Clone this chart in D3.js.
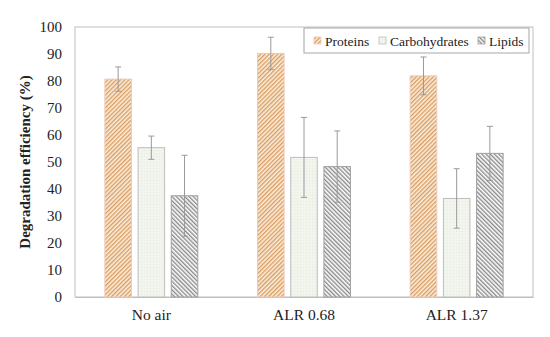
<!DOCTYPE html>
<html>
<head>
<meta charset="utf-8">
<style>
body { margin:0; background:#ffffff; }
svg { display:block; }
svg text { font-family:"Liberation Serif", "Times New Roman", serif; }
</style>
<script src="https://cdnjs.cloudflare.com/ajax/libs/d3/7.8.5/d3.min.js"></script>
</head>
<body>
<svg id="chart" width="550" height="337"></svg>
<script>
var categories = ["No air", "ALR 0.68", "ALR 1.37"];
var seriesNames = ["Proteins", "Carbohydrates", "Lipids"];
var proteins = [80.7, 90.2, 81.9];
var proteinsErr = [4.5, 6.0, 7.0];
var carbohydrates = [55.3, 51.7, 36.5];
var carbohydratesErr = [4.3, 14.8, 11.0];
var lipids = [37.5, 48.3, 53.2];
var lipidsErr = [15.0, 13.2, 10.0];
var yTicks = [0, 10, 20, 30, 40, 50, 60, 70, 80, 90, 100];

var values = [proteins, carbohydrates, lipids];
var errors = [proteinsErr, carbohydratesErr, lipidsErr];

var svg = d3.select("#chart");
var pLeft = 75, pRight = 533, pTop = 27, pBottom = 297;

// patterns
var defs = svg.append("defs");
var pp = defs.append("pattern").attr("id", "pat0").attr("patternUnits", "userSpaceOnUse")
  .attr("width", 3).attr("height", 3).attr("patternTransform", "rotate(45)");
pp.append("rect").attr("width", 3).attr("height", 3).attr("fill", "#fcf0df");
pp.append("rect").attr("width", 1.4).attr("height", 3).attr("fill", "#d99d62");

var pc = defs.append("pattern").attr("id", "pat1").attr("patternUnits", "userSpaceOnUse")
  .attr("width", 3).attr("height", 3);
pc.append("rect").attr("width", 3).attr("height", 3).attr("fill", "#f2f5ee");
pc.append("rect").attr("width", 1).attr("height", 1).attr("fill", "#e4eadc");

var pl = defs.append("pattern").attr("id", "pat2").attr("patternUnits", "userSpaceOnUse")
  .attr("width", 3).attr("height", 3).attr("patternTransform", "rotate(-45)");
pl.append("rect").attr("width", 3).attr("height", 3).attr("fill", "#ffffff");
pl.append("rect").attr("width", 1.4).attr("height", 3).attr("fill", "#8a8a8a");

var fills = ["url(#pat0)", "url(#pat1)", "url(#pat2)"];
var strokes = ["#f0c8b8", "#bcbcbc", "#a0a0a0"];

var x0 = d3.scaleBand().domain(categories).range([pLeft, pRight]);
var x1 = d3.scaleBand().domain(seriesNames).range([0, x0.bandwidth()]).paddingInner(0.2).paddingOuter(0.9);
var y = d3.scaleLinear().domain([0, 100]).range([pBottom, pTop]);

// plot frame
svg.append("rect").attr("x", pLeft).attr("y", pTop).attr("width", pRight - pLeft).attr("height", pBottom - pTop)
  .attr("fill", "none").attr("stroke", "#bfbfbf").attr("stroke-width", 1);

// y axis
var yAxis = svg.append("g").attr("transform", "translate(" + pLeft + ",0)")
  .call(d3.axisLeft(y).tickValues(yTicks).tickSize(0).tickPadding(13));
yAxis.attr("font-family", null);
yAxis.select(".domain").remove();
yAxis.selectAll("text").attr("font-size", 15).attr("fill", "#222");

svg.append("text").text("Degradation efficiency (%)")
  .attr("transform", "translate(25," + ((pTop + pBottom) / 2) + ") rotate(-90)")
  .attr("text-anchor", "middle").attr("dominant-baseline", "central")
  .attr("font-weight", "bold").attr("font-size", 15).attr("fill", "#222");

// x axis labels
var xAxis = svg.append("g").attr("transform", "translate(0," + pBottom + ")")
  .call(d3.axisBottom(x0).tickSize(0).tickPadding(12));
xAxis.attr("font-family", null);
xAxis.select(".domain").attr("stroke", "#bfbfbf");
xAxis.selectAll("text").attr("font-size", 15.5).attr("fill", "#222");

// bars
seriesNames.forEach(function(s, si) {
  var g = svg.append("g");
  categories.forEach(function(c, ci) {
    var v = values[si][ci], e = errors[si][ci];
    var bx = x0(c) + x1(s), bw = x1.bandwidth();
    g.append("rect").attr("x", bx).attr("y", y(v)).attr("width", bw).attr("height", y(0) - y(v))
      .attr("fill", fills[si]).attr("stroke", strokes[si]).attr("stroke-width", 1);
    var cx = bx + bw / 2;
    g.append("line").attr("x1", cx).attr("x2", cx).attr("y1", y(v + e)).attr("y2", y(v - e))
      .attr("stroke", "#9a9a9a").attr("stroke-width", 1);
    [v + e, v - e].forEach(function(t) {
      g.append("line").attr("x1", cx - 3).attr("x2", cx + 3).attr("y1", y(t)).attr("y2", y(t))
        .attr("stroke", "#9a9a9a").attr("stroke-width", 1);
    });
  });
});

// legend
var lg = svg.append("g");
lg.append("rect").attr("x", 304).attr("y", 28).attr("width", 225).attr("height", 25)
  .attr("fill", "#ffffff").attr("stroke", "#a6a6a6").attr("stroke-width", 1);
var legendX = [314, 379, 478];
seriesNames.forEach(function(s, si) {
  lg.append("rect").attr("x", legendX[si]).attr("y", 37).attr("width", 7).attr("height", 7)
    .attr("fill", fills[si]).attr("stroke", strokes[si]).attr("stroke-width", 0.8);
  lg.append("text").text(s).attr("x", legendX[si] + 11).attr("y", 46)
    .attr("font-size", 13.5).attr("fill", "#222");
});
</script>
</body>
</html>
